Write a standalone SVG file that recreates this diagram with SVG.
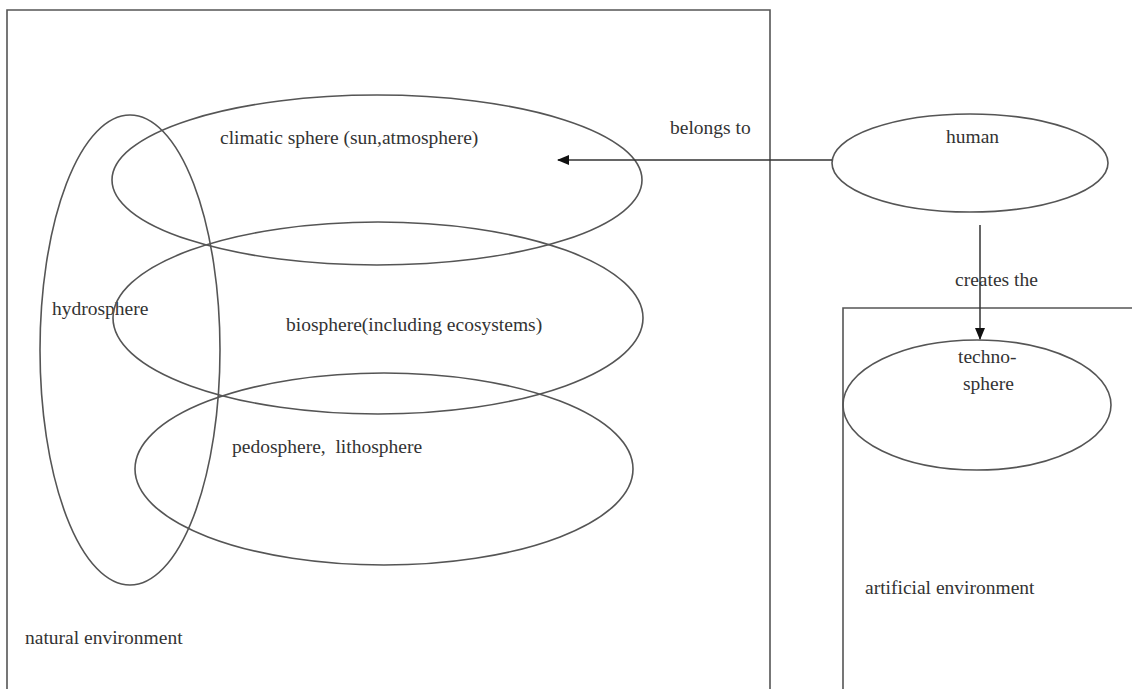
<svg xmlns="http://www.w3.org/2000/svg" width="1132" height="689" viewBox="0 0 1132 689">
<style>
.s{fill:none;stroke:#555;stroke-width:1.6}
.t{font-family:"Liberation Serif",serif;font-size:19.5px;fill:#333}
.c{stroke:#333;stroke-width:1.5;fill:none}
</style>
<defs>
<marker id="ah" markerWidth="12" markerHeight="10" refX="11" refY="5" orient="auto" markerUnits="userSpaceOnUse">
<path d="M0,0 L12,5 L0,10 Z" fill="#111"/>
</marker>
</defs>
<rect width="1132" height="689" fill="#fff"/>
<g id="natural-environment">
<path class="s" d="M7,689 V10 H770 V689"/>
<text class="t" x="25" y="644">natural environment</text>
</g>
<g id="artificial-environment">
<path class="s" d="M843,689 V308 H1132"/>
<text class="t" x="865" y="594">artificial environment</text>
</g>
<g id="hydrosphere">
<ellipse class="s" cx="130" cy="350" rx="90" ry="235"/>
<text class="t" x="52" y="315">hydrosphere</text>
</g>
<g id="climatic">
<ellipse class="s" cx="377" cy="180" rx="265" ry="85"/>
<text class="t" x="220" y="144">climatic sphere (sun,atmosphere)</text>
</g>
<g id="biosphere">
<ellipse class="s" cx="378" cy="318" rx="265" ry="96"/>
<text class="t" x="286" y="331">biosphere(including ecosystems)</text>
</g>
<g id="pedosphere">
<ellipse class="s" cx="384" cy="469" rx="249" ry="96"/>
<text class="t" x="232" y="453" xml:space="preserve">pedosphere,  lithosphere</text>
</g>
<g id="human">
<ellipse class="s" cx="970" cy="163" rx="138" ry="49"/>
<text class="t" x="946" y="143">human</text>
</g>
<g id="technosphere">
<ellipse class="s" cx="977" cy="405" rx="134" ry="65"/>
<text class="t" x="958" y="363">techno-</text>
<text class="t" x="963" y="390">sphere</text>
</g>
<g id="connectors">
<line class="c" x1="832" y1="160" x2="558" y2="160" marker-end="url(#ah)"/>
<text class="t" x="670" y="134">belongs to</text>
<line class="c" x1="980" y1="225" x2="980" y2="339" marker-end="url(#ah)"/>
<text class="t" x="955" y="286">creates the</text>
</g>
</svg>
